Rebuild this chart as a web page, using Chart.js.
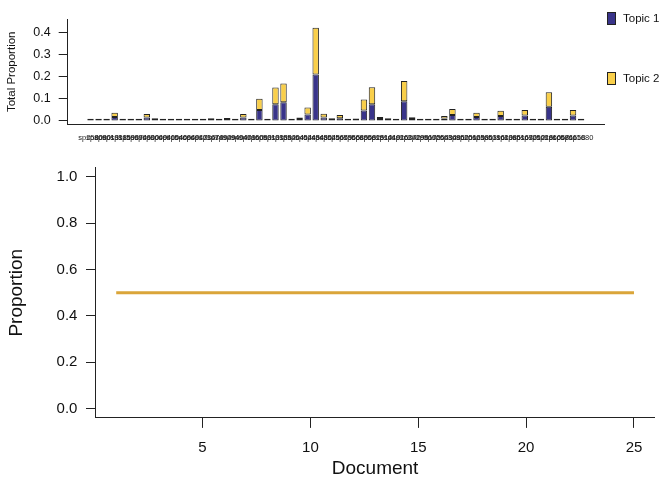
<!DOCTYPE html>
<html>
<head>
<meta charset="utf-8">
<script src="https://cdn.jsdelivr.net/npm/chart.js@4.4.1/dist/chart.umd.min.js"></script>
<style>
  body { margin: 0; background: #fff; }
  #wrap { position: relative; width: 672px; height: 480px; font-family: "Liberation Sans", Arial, sans-serif; }
  .pane { position: absolute; left: 0; width: 672px; }
  .key { position: absolute; left: 607px; width: 7px; height: 11px; border: 1px solid #222; }
  .keytxt { position: absolute; left: 623px; font-size: 11.5px; line-height: 14px; color: #111; }
</style>
</head>
<body>
<div id="wrap">
  <div class="pane" style="top:0;height:150px"><canvas id="topChart"></canvas></div>
  <div class="pane" style="top:150px;height:330px"><canvas id="lineChart"></canvas></div>
  <div class="key" style="top:12px;background:#39348A"></div>
  <div class="keytxt" style="top:11px">Topic 1</div>
  <div class="key" style="top:72px;background:#F9CF4A"></div>
  <div class="keytxt" style="top:71px">Topic 2</div>
</div>
<script>
// documents in the top panel
const docIds = [
  'sp2580','sp8080','sp9013','sp1918','sp3159','sp5937','sp6946','sp0900','sp3009','sp4040',
  'sp9104','sp5406','sp6940','sp6943','sp1734','sp1678','sp7494','sp9294','sp9404','sp9401',
  'sp7860','sp6080','sp5310','sp1318','sp3582','sp5404','sp6454','sp0245','sp4848','sp4554',
  'sp0256','sp5659','sp7555','sp6685','sp6958','sp0625','sp1810','sp1410','sp4916','sp2634',
  'sp2729','sp2981','sp5675','sp0254','sp6534','sp3686','sp9525','sp2016','sp6258','sp3653',
  'sp6196','sp1610','sp2386','sp6516','sp1630','sp7212','sp5016','sp2860','sp1668','sp5716',
  'sp6158','sp1680'
];
const topic1 = [
  0.001,0.001,0.001,0.018,0.001,0.001,0.001,0.016,0.004,0.001,
  0.001,0.001,0.001,0.001,0.002,0.004,0.001,0.005,0.001,0.016,
  0.002,0.050,0.001,0.076,0.085,0.001,0.008,0.030,0.211,0.016,
  0.004,0.012,0.001,0.003,0.048,0.076,0.009,0.003,0.001,0.090,
  0.007,0.002,0.001,0.001,0.011,0.027,0.001,0.002,0.018,0.001,
  0.001,0.023,0.001,0.001,0.025,0.002,0.001,0.065,0.001,0.001,
  0.025,0.001
];
const topic2 = [
  0.001,0.001,0.001,0.019,0.001,0.001,0.001,0.016,0.003,0.001,
  0.001,0.001,0.001,0.001,0.001,0.003,0.001,0.004,0.001,0.016,
  0.001,0.051,0.001,0.076,0.085,0.001,0.007,0.031,0.213,0.017,
  0.003,0.015,0.001,0.002,0.050,0.077,0.009,0.003,0.001,0.092,
  0.008,0.001,0.001,0.001,0.012,0.027,0.001,0.001,0.019,0.001,
  0.001,0.024,0.001,0.001,0.025,0.001,0.001,0.066,0.001,0.001,
  0.025,0.001
];
const barTicks = [0, 0.1, 0.2, 0.3, 0.4];

// bottom panel
const docNumbers = [1,2,3,4,5,6,7,8,9,10,11,12,13,14,15,16,17,18,19,20,21,22,23,24,25];
const proportion = [0.5,0.5,0.5,0.5,0.5,0.5,0.5,0.5,0.5,0.5,0.5,0.5,0.5,0.5,0.5,0.5,0.5,0.5,0.5,0.5,0.5,0.5,0.5,0.5,0.5];
const docTicks = [5, 10, 15, 20, 25];
const propTicks = [0, 0.2, 0.4, 0.6, 0.8, 1.0];

const FONT = '"Liberation Sans", Arial, sans-serif';
Chart.defaults.font.family = FONT;
Chart.defaults.color = '#111';

new Chart(document.getElementById('topChart'), {
  type: 'bar',
  data: {
    datasets: [
      {
        label: 'Topic 1',
        data: topic1.map((v, i) => ({ x: i, y: v })),
        backgroundColor: '#39348A',
        minBarLength: 2
      },
      {
        label: 'Topic 2',
        data: topic2.map((v, i) => ({ x: i, y: v })),
        backgroundColor: '#F9CF4A'
      }
    ]
  },
  options: {
    responsive: true,
    maintainAspectRatio: false,
    animation: false,
    layout: { padding: { top: 19.3, right: 67.7, bottom: 0, left: 0 } },
    datasets: {
      bar: {
        borderColor: '#222',
        borderWidth: 1,
        borderSkipped: false,
        barPercentage: 0.8,
        categoryPercentage: 1
      }
    },
    plugins: { legend: { display: false }, tooltip: { enabled: false } },
    scales: {
      x: {
        type: 'linear',
        stacked: true,
        min: -2.3,
        max: 63.35,
        grid: { display: false },
        border: { display: true, color: '#222', width: 1 },
        afterBuildTicks: s => { s.ticks = docIds.map((_, i) => ({ value: i })); },
        afterFit: s => { s.height = 25.7; },
        ticks: {
          autoSkip: false,
          maxRotation: 0,
          minRotation: 0,
          padding: 1,
          color: '#222',
          font: { size: 7.5 },
          callback: v => docIds[v]
        }
      },
      y: {
        stacked: true,
        min: -0.015,
        max: 0.462,
        grid: { drawOnChartArea: false, color: '#222', tickLength: 9 },
        border: { display: true, color: '#222', width: 1 },
        afterBuildTicks: s => { s.ticks = barTicks.map(v => ({ value: v })); },
        afterFit: s => { s.width = 67.7; },
        ticks: { padding: 8, font: { size: 12.5 }, callback: v => v.toFixed(1) },
        title: {
          display: true,
          text: 'Total Proportion',
          font: { size: 11.5, lineHeight: 1.2 },
          padding: { top: 4.8, bottom: 0 }
        }
      }
    }
  }
});

new Chart(document.getElementById('lineChart'), {
  type: 'line',
  data: {
    labels: docNumbers,
    datasets: [{
      label: 'Proportion',
      data: docNumbers.map((d, i) => ({ x: d, y: proportion[i] })),
      borderColor: '#DAA539',
      borderWidth: 3,
      pointRadius: 0,
      fill: false
    }]
  },
  options: {
    responsive: true,
    maintainAspectRatio: false,
    animation: false,
    layout: { padding: { top: 13.5, right: 17.3, bottom: 0, left: 0 } },
    plugins: { legend: { display: false }, tooltip: { enabled: false } },
    scales: {
      x: {
        type: 'linear',
        min: 0.04,
        max: 25.96,
        grid: { drawOnChartArea: false, color: '#222', tickLength: 10 },
        border: { display: true, color: '#222', width: 1 },
        afterBuildTicks: s => { s.ticks = docTicks.map(v => ({ value: v })); },
        afterFit: s => { s.height = 62.1; },
        ticks: { padding: 10.8, font: { size: 15 } },
        title: {
          display: true,
          text: 'Document',
          font: { size: 19, lineHeight: 1.2 },
          padding: { top: 0, bottom: 0 }
        }
      },
      y: {
        min: -0.04,
        max: 1.04,
        grid: { drawOnChartArea: false, color: '#222', tickLength: 9.5 },
        border: { display: true, color: '#222', width: 1 },
        afterBuildTicks: s => { s.ticks = propTicks.map(v => ({ value: v })); },
        afterFit: s => { s.width = 95.5; },
        ticks: { padding: 8.6, font: { size: 15 }, callback: v => v.toFixed(1) },
        title: {
          display: true,
          text: 'Proportion',
          font: { size: 19, lineHeight: 1.2 },
          padding: { top: 5.8, bottom: 0 }
        }
      }
    }
  }
});
</script>
</body>
</html>
